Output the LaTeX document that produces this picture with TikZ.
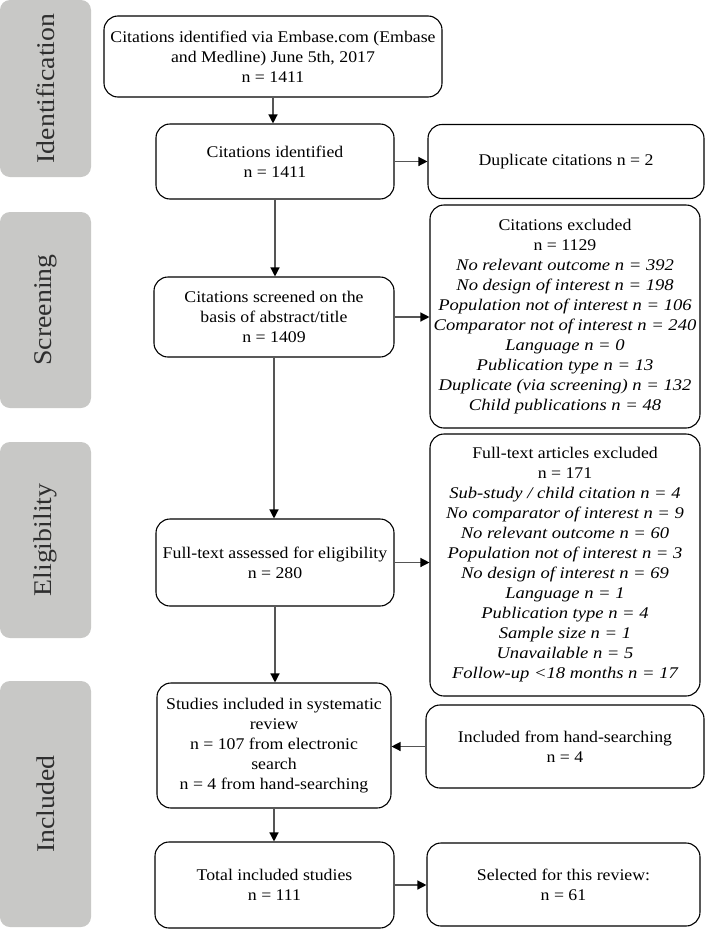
\documentclass[tikz,border=0pt]{standalone}
\usepackage{fontspec}
\setmainfont{Liberation Serif}[FakeStretch=1.09, ItalicFeatures={FakeStretch=1.14}]
\usetikzlibrary{arrows.meta}
\definecolor{bandgray}{HTML}{C8C8C6}
\definecolor{bandtext}{HTML}{2E2E2E}
\definecolor{linegray}{HTML}{555555}
\begin{document}
\begin{tikzpicture}[x=1pt,y=-1pt,
  box/.style={draw=black, line width=1.1pt, rounded corners=14pt, align=center,
    font=\fontsize{16.3}{20}\selectfont, inner sep=0pt, text=black},
  band/.style={fill=bandgray, rounded corners=10pt, rotate=90, inner sep=0pt,
    minimum height=91pt, text=bandtext, font=\fontsize{25.5}{30}\selectfont},
  arr/.style={draw=linegray, line width=1.3pt, -{Triangle[length=9pt,width=9pt,color=black]}}]
\useasboundingbox (0,0) rectangle (705,929);
\fill[white] (0,0) rectangle (705,929);
% bands
\node[band, minimum width=177pt] (s1) at (45.5,88.5) {Identification};
\node[band, minimum width=196pt] (s2) at (45.5,310) {Screening};
\node[band, minimum width=196pt] (s3) at (45.5,540) {Eligibility};
\node[band, minimum width=246pt] (s4) at (45.5,804) {Included};
% boxes
\node[box, minimum width=338pt, minimum height=81pt] (b1) at (273,56.5)
  {Citations identified via Embase.com (Embase\\and Medline) June 5th, 2017\\n = 1411};
\node[box, minimum width=238pt, minimum height=75pt] (b2) at (275,161.5)
  {Citations identified\\n = 1411};
\node[box, minimum width=276pt, minimum height=74pt] (b3) at (566,161.5)
  {Duplicate citations n = 2};
\node[box, minimum width=240pt, minimum height=80pt] (b4) at (274,317)
  {Citations screened on the\\basis of abstract/title\\n = 1409};
\node[box, minimum width=270pt, minimum height=223pt] (b5) at (565,316.5)
  {Citations excluded\\n = 1129\\
   \itshape No relevant outcome n = 392\\
   \itshape No design of interest n = 198\\
   \itshape Population not of interest n = 106\\
   \itshape Comparator not of interest n = 240\\
   \itshape Language n = 0\\
   \itshape Publication type n = 13\\
   \itshape Duplicate (via screening) n = 132\\
   \itshape Child publications n = 48};
\node[box, minimum width=238pt, minimum height=87pt] (b6) at (275,562.5)
  {Full-text assessed for eligibility\\n = 280};
\node[box, minimum width=270pt, minimum height=262pt] (b7) at (565,565)
  {Full-text articles excluded\\n = 171\\
   \itshape Sub-study / child citation n = 4\\
   \itshape No comparator of interest n = 9\\
   \itshape No relevant outcome n = 60\\
   \itshape Population not of interest n = 3\\
   \itshape No design of interest n = 69\\
   \itshape Language n = 1\\
   \itshape Publication type n = 4\\
   \itshape Sample size n = 1\\
   \itshape Unavailable n = 5\\
   \itshape Follow-up <18 months n = 17};
\node[box, minimum width=234pt, minimum height=125pt] (b8) at (274,745.5)
  {Studies included in systematic\\review\\n = 107 from electronic\\search\\n = 4 from hand-searching};
\node[box, minimum width=278pt, minimum height=83pt] (b9) at (565,746.5)
  {Included from hand-searching\\n = 4};
\node[box, minimum width=239pt, minimum height=86pt] (b10) at (274.5,885)
  {Total included studies\\n = 111};
\node[box, minimum width=273pt, minimum height=83pt] (b11) at (563.5,884.5)
  {Selected for this review:\\n = 61};
% arrows
\draw[arr] (b1.south) -- (b1.south |- b2.north);
\draw[arr] (b2.south) -- (b2.south |- b4.north);
\draw[arr] (b4.south) -- (b4.south |- b6.north);
\draw[arr] (b6.south) -- (b6.south |- b8.north);
\draw[arr] (b8.south) -- (b8.south |- b10.north);
\draw[arr] (b2.east) -- (b2.east -| b3.west);
\draw[arr] (b4.east) -- (b4.east -| b5.west);
\draw[arr] (b6.east) -- (b6.east -| b7.west);
\draw[arr] (b9.west) -- (b9.west -| b8.east);
\draw[arr] (b10.east) -- (b10.east -| b11.west);
\end{tikzpicture}
\end{document}
